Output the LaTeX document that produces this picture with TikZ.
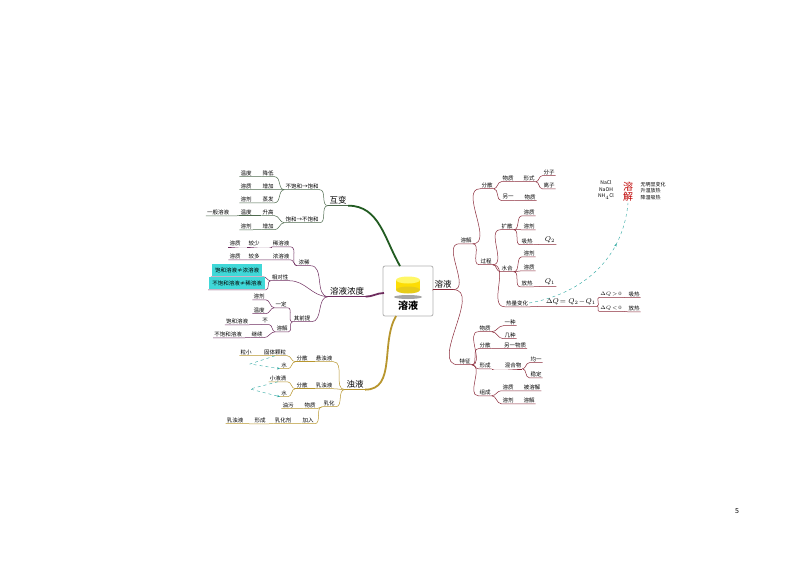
\documentclass[tikz,border=0pt]{standalone}
\usepackage{fontspec}
\setmainfont{Noto Sans CJK SC}
\usetikzlibrary{decorations.markings,arrows.meta}
\definecolor{cg}{HTML}{4F6B4F}
\definecolor{cp}{HTML}{6E2C5E}
\definecolor{co}{HTML}{B8962E}
\definecolor{cr}{HTML}{8B2A3A}
\definecolor{cy}{HTML}{2AA7A0}
\definecolor{hl}{HTML}{40D8D8}
\tikzset{lbl/.style={inner sep=1pt,font=\fontsize{5.5}{6.5}\selectfont,anchor=center},
conn/.style={line width=0.5pt},
big/.style={inner sep=1.5pt,font=\fontsize{8.5}{9}\selectfont}}
\newcommand\RK[5]{\node[lbl] (#2) at (#3) {#4};
 \draw[conn,#5] (#1.south east) to[out=0,in=180] (#2.south west) -- (#2.south east);}
\newcommand\LK[5]{\node[lbl] (#2) at (#3) {#4};
 \draw[conn,#5] (#1.south west) to[out=180,in=0] (#2.south east) -- (#2.south west);}
\begin{document}
\begin{tikzpicture}[x=1pt,y=-1pt]
\useasboundingbox[fill=white] (0,0) rectangle (794,562);
% center
\node[draw=gray!60,rounded corners=2pt,minimum width=50pt,minimum height=50pt,line width=0.8pt] (c) at (408,291) {};
\fill[yellow!80!orange] (396,280) rectangle (420,290);
\fill[yellow!80!orange!90!black] (408,290) ellipse (12 and 3.5);
\fill[yellow!60] (408,280) ellipse (12 and 3.5);
\fill[gray!70] (408,297) ellipse (14 and 2);
\node[font=\fontsize{10}{12}\selectfont\bfseries] (ct) at (408,306) {溶液};
% main branches
\node[big] (hb) at (338,200) {互变};
\draw[cg!70!green!60!black,line width=1.8pt] (400,266) to[out=120,in=0] (hb.south east);
\draw[cg,line width=0.8pt] (hb.south west)--(hb.south east);
\node[big] (nd) at (347,291) {溶液浓度};
\draw[cp,line width=1.8pt] (384,293) to[out=180,in=0] (nd.south east);
\draw[cp,line width=0.8pt] (nd.south west)--(nd.south east);
\node[big] (zy) at (355,384) {浊液};
\draw[co,line width=1.8pt] (396,316) to[out=240,in=0] (zy.south east);
\draw[co,line width=0.8pt] (zy.south west)--(zy.south east);
\node[big] (ry) at (443,284) {溶液};
\draw[cr,line width=1.5pt] (433,290) -- (ry.south west);
\draw[cr,line width=0.8pt] (ry.south west)--(ry.south east);
% left top
\LK{hb}{a1}{302,186}{不饱和→饱和}{cg}
\LK{hb}{a2}{302,219}{饱和→不饱和}{cg}
\LK{a1}{a11}{268,173}{降低}{cg}\LK{a11}{a12}{246,173}{温度}{cg}
\LK{a1}{a21}{268,186}{增加}{cg}\LK{a21}{a22}{246,186}{溶质}{cg}
\LK{a1}{a31}{268,199}{蒸发}{cg}\LK{a31}{a32}{246,199}{溶剂}{cg}
\LK{a2}{b11}{268,212}{升高}{cg}\LK{b11}{b12}{246,212}{温度}{cg}\LK{b12}{b13}{218,212}{一般溶液}{cg}
\LK{a2}{b21}{268,226}{增加}{cg}\LK{b21}{b22}{246,226}{溶剂}{cg}
% left middle
\LK{nd}{n1}{304,262}{浓稀}{cp}
\LK{nd}{n2}{280,277}{相对性}{cp}
\LK{nd}{n3}{302,318}{其前提}{cp}
\LK{n1}{n11}{281,243}{稀溶液}{cp}\LK{n11}{n12}{254,243}{较少}{cp}\LK{n12}{n13}{235,243}{溶质}{cp}
\LK{n1}{n21}{281,256}{浓溶液}{cp}\LK{n21}{n22}{254,256}{较多}{cp}\LK{n22}{n23}{235,256}{溶质}{cp}
\LK{n2}{n31}{237,270}{\colorbox{hl}{饱和溶液≠浓溶液}}{cp}
\LK{n2}{n32}{237,283}{\colorbox{hl}{不饱和溶液≠稀溶液}}{cp}
\LK{n3}{m1}{281,304}{一定}{cp}
\LK{n3}{m2}{282,328}{溶解}{cp}
\LK{m1}{m11}{259,296}{溶剂}{cp}
\LK{m1}{m12}{259,310}{温度}{cp}
\LK{m2}{m21}{265,321}{不}{cp}\LK{m21}{m22}{237,321}{饱和溶液}{cp}
\LK{m2}{m31}{257,334}{继续}{cp}\LK{m31}{m32}{228,334}{不饱和溶液}{cp}
% left bottom
\LK{zy}{z1}{324,358}{悬浊液}{co}\LK{z1}{z11}{302,358}{分散}{co}
\LK{z11}{z12}{275,352}{固体颗粒}{co}\LK{z12}{z13}{246,352}{粒小}{co}
\LK{z11}{z14}{284,365}{水}{co}
\LK{zy}{z2}{324,385}{乳浊液}{co}\LK{z2}{z21}{302,385}{分散}{co}
\LK{z21}{z22}{278,378}{小液滴}{co}
\LK{z21}{z23}{284,393}{水}{co}
\LK{zy}{z3}{329,403}{乳化}{co}
\LK{z3}{z31}{310,405}{物质}{co}\LK{z31}{z32}{288,405}{油污}{co}
\LK{z3}{z41}{308,420}{加入}{co}\LK{z41}{z42}{283,420}{乳化剂}{co}\LK{z42}{z43}{260,420}{形成}{co}\LK{z43}{z44}{235,420}{乳浊液}{co}
\draw[cy,dashed,-{Stealth[length=3pt]}] (z12.south) -- (250,364) -- (z14.south west);
\draw[cy,dashed,-{Stealth[length=3pt]}] (z22.south) -- (250,389) -- (z23.south west);
% right tree
\RK{ry}{r1}{466,240}{溶解}{cr}
\RK{ry}{r2}{465,361}{特征}{cr}
\RK{r1}{s1}{487,185}{分散}{cr}
\RK{r1}{s2}{486,261}{过程}{cr}
\RK{s1}{s11}{508,178}{物质}{cr}\RK{s11}{s12}{529,178}{形式}{cr}
\RK{s12}{s13}{549,172}{分子}{cr}\RK{s12}{s14}{549,185}{离子}{cr}
\RK{s1}{s21}{508,197}{另一}{cr}\RK{s21}{s22}{530,197}{物质}{cr}
\RK{s2}{t1}{507,226}{扩散}{cr}
\RK{t1}{t11}{529,212}{溶质}{cr}\RK{t1}{t12}{529,226}{溶剂}{cr}
\RK{t1}{t13}{527,241}{吸热}{cr}\RK{t13}{t14}{550,240}{\fontsize{7}{8}\selectfont$Q_2$}{cr}
\RK{s2}{t2}{507,268}{水合}{cr}
\RK{t2}{t21}{529,253}{溶剂}{cr}\RK{t2}{t22}{529,267}{溶质}{cr}
\RK{t2}{t23}{527,283}{放热}{cr}\RK{t23}{t24}{550,282}{\fontsize{7}{8}\selectfont$Q_1$}{cr}
\RK{s2}{t3}{517,303}{热量变化}{cr}
\RK{t3}{t31}{571,302}{\fontsize{7}{8}\selectfont$\Delta Q\!=Q_2\!-\!Q_1$}{cr}
\RK{t31}{t32}{611,294}{\fontsize{4.5}{5}\selectfont$\Delta Q\!>\!0$}{cr}\RK{t32}{t33}{634,294}{吸热}{cr}
\RK{t31}{t34}{611,308}{\fontsize{4.5}{5}\selectfont$\Delta Q\!<\!0$}{cr}\RK{t34}{t35}{634,308}{放热}{cr}
\node[lbl,text=red!75!black,font=\fontsize{10}{9}\selectfont,align=center] (rj) at (628,192) {溶\\解};
\node[lbl,align=center,font=\fontsize{5}{6.5}\selectfont] (cl) at (606,190) {NaCl\\NaOH\\NH$_4$Cl};
\node[lbl,align=left,font=\fontsize{5}{6.5}\selectfont] (cm) at (653,191) {无明显变化\\升温放热\\降温吸热};
\draw[cy,dashed,postaction={decorate},decoration={markings,mark=at position 0.72 with {\arrow{Stealth[length=3pt]}}}] (t3.east) to[out=10,in=-95] (rj.south);
\RK{r2}{u1}{485,328}{物质}{cr}
\RK{u1}{u11}{510,322}{一种}{cr}\RK{u1}{u12}{510,335}{几种}{cr}
\RK{r2}{u2}{485,345}{分散}{cr}\RK{u2}{u21}{515,345}{另一物质}{cr}
\RK{r2}{u3}{485,365}{形成}{cr}\RK{u3}{u31}{513,365}{混合物}{cr}
\RK{u31}{u32}{536,359}{均一}{cr}\RK{u31}{u33}{536,374}{稳定}{cr}
\RK{r2}{u4}{485,392}{组成}{cr}
\RK{u4}{u41}{508,387}{溶质}{cr}\RK{u41}{u42}{532,387}{被溶解}{cr}
\RK{u4}{u43}{508,400}{溶剂}{cr}\RK{u43}{u44}{529,400}{溶解}{cr}
\node[font=\fontsize{7}{8}\selectfont\rmfamily] (pg) at (737,511) {5};
\end{tikzpicture}
\end{document}
